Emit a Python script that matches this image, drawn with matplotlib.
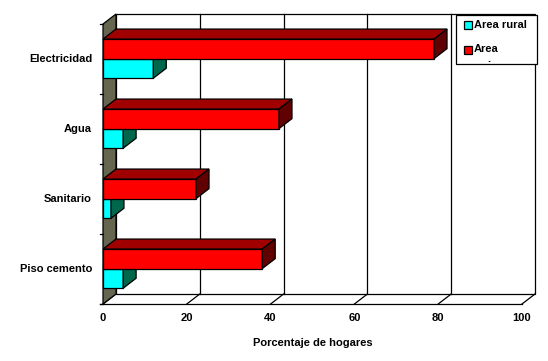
import matplotlib.pyplot as plt
from matplotlib.patches import Polygon, Rectangle

categories = ["Electricidad", "Agua", "Sanitario", "Piso cemento"]
rural = [12.0, 4.8, 1.9, 4.8]
urbana = [79.0, 42.0, 22.2, 38.0]
series = ["Area rural", "Area"]
xticks = [0, 20, 40, 60, 80, 100]
xlabel = "Porcentaje de hogares"

plt.rcParams['font.family'] = ['Liberation Sans', 'DejaVu Sans']
plt.rcParams['font.weight'] = 'bold'
plt.rcParams['font.size'] = 8

W, H = 548, 361
fig = plt.figure(figsize=(W / 100, H / 100), dpi=100)
ax = fig.add_axes([0, 0, 1, 1])
ax.axis('off')

# pixel layout of the front plane: x=0 at 103 px, 4.19 px per unit; floor at 304 px, 70 px per band
ax.set_xlim(-103 / 4.19, (W - 103) / 4.19)
ax.set_ylim((304 - H) / 70, 304 / 70)

dx = 13 / 4.19   # depth offset in x units
dy = 10 / 70     # depth offset in y units
n = len(categories)
xmax = xticks[-1]
lw = 0.9

# back wall + grid
ax.add_patch(Rectangle((dx, dy), xmax, n, fc='white', ec='black', lw=lw, zorder=0.5))
for t in xticks[1:-1]:
    ax.plot([t + dx, t + dx], [dy, n + dy], color='black', lw=lw, zorder=1)

# floor
ax.plot([-0.8, xmax], [0, 0], color='black', lw=lw, zorder=1)
for t in xticks:
    ax.plot([t, t + dx], [0, dy], color='black', lw=lw, zorder=1)
    ax.text(t, -0.2, str(t), ha='center', va='center')
ax.text(xmax / 2, -0.56, xlabel, ha='center', va='center')

# left wall
ax.add_patch(Polygon([(0, 0), (dx, dy), (dx, n + dy), (0, n)], closed=True,
                     fc='#666650', ec='black', lw=lw, zorder=1.5))
for k in range(n + 1):
    ax.plot([-0.8, 0], [k, k], color='black', lw=lw, zorder=1.5)


def bar3d(y0, h, v, front, top, side, z):
    ax.barh(y0 + h / 2, v, height=h, left=0, color=front, edgecolor='black', lw=lw, zorder=z)
    ax.add_patch(Polygon([(0, y0 + h), (v, y0 + h), (v + dx, y0 + h + dy), (dx, y0 + h + dy)],
                         closed=True, fc=top, ec='black', lw=lw, zorder=z))
    ax.add_patch(Polygon([(v, y0), (v, y0 + h), (v + dx, y0 + h + dy), (v + dx, y0 + dy)],
                         closed=True, fc=side, ec='black', lw=lw, zorder=z))


h = 0.28
for i, cat in enumerate(categories):
    base = n - 1 - i
    bar3d(base + 0.225, h, rural[i], '#00FFFF', '#009999', '#00664C', 3 + i * 0.1)
    bar3d(base + 0.225 + h, h, urbana[i], '#FF0000', '#A00000', '#600000', 3.05 + i * 0.1)
    ax.text(-2.6, base + 0.5, cat, ha='right', va='center')

# legend (pixel placed)
def fx(px):
    return px / W


def fy(py):
    return 1 - py / H


fig.patches.append(Rectangle((fx(456), fy(64)), fx(537) - fx(456), fy(15) - fy(64),
                             transform=fig.transFigure, fc='white', ec='black', lw=lw, zorder=5))
for lab, col, py in zip(series, ['#00FFFF', '#FF0000'], [25, 50]):
    fig.patches.append(Rectangle((fx(464), fy(py + 4)), fx(8), 8 / H, transform=fig.transFigure,
                                 fc=col, ec='black', lw=lw, zorder=6))
    fig.text(fx(474), fy(py - 0.5), lab, ha='left', va='center', zorder=6)
fig.text(fx(489), fy(59), ".", ha='center', va='center', zorder=6)

fig.savefig("out.png", dpi=100)
